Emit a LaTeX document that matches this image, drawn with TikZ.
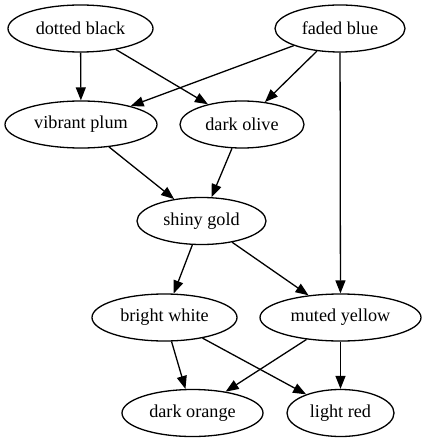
\documentclass[tikz,border=0pt]{standalone}
\usepackage{fontspec}
\setmainfont{Liberation Serif}
\usetikzlibrary{shapes.geometric,arrows.meta}
\begin{document}
\begin{tikzpicture}[x=1pt,y=-1pt,
  nd/.style={ellipse,draw,line width=1.3pt,inner sep=0pt,minimum height=47pt,font=\fontsize{18.2pt}{20pt}\selectfont},
  ed/.style={draw,line width=1.3pt,-{Triangle[length=13pt,width=10pt]}}]
\useasboundingbox (0,0) rectangle (426,443);
\node[nd,minimum width=145pt] (db) at (80.5,28.5) {dotted black};
\node[nd,minimum width=130pt] (fb) at (340,28.5) {faded blue};
\node[nd,minimum width=152pt] (vp) at (81,124.5) {vibrant plum};
\node[nd,minimum width=124pt] (do) at (242,124.5) {dark olive};
\node[nd,minimum width=129pt] (sg) at (201.5,221) {shiny gold};
\node[nd,minimum width=145pt] (bw) at (164.5,317.5) {bright white};
\node[nd,minimum width=161pt] (my) at (340.5,317.5) {muted yellow};
\node[nd,minimum width=141pt] (dor) at (192.5,413) {dark orange};
\node[nd,minimum width=107pt] (lr) at (340.5,413) {light red};
\draw[ed] (db) -- (vp);
\draw[ed] (db) -- (do);
\draw[ed] (fb) -- (vp);
\draw[ed] (fb) -- (do);
\draw[ed] (fb) -- (my);
\draw[ed] (vp) -- (sg);
\draw[ed] (do) -- (sg);
\draw[ed] (sg) -- (bw);
\draw[ed] (sg) -- (my);
\draw[ed] (bw) -- (dor);
\draw[ed] (bw) -- (lr);
\draw[ed] (my) -- (dor);
\draw[ed] (my) -- (lr);
\end{tikzpicture}
\end{document}
